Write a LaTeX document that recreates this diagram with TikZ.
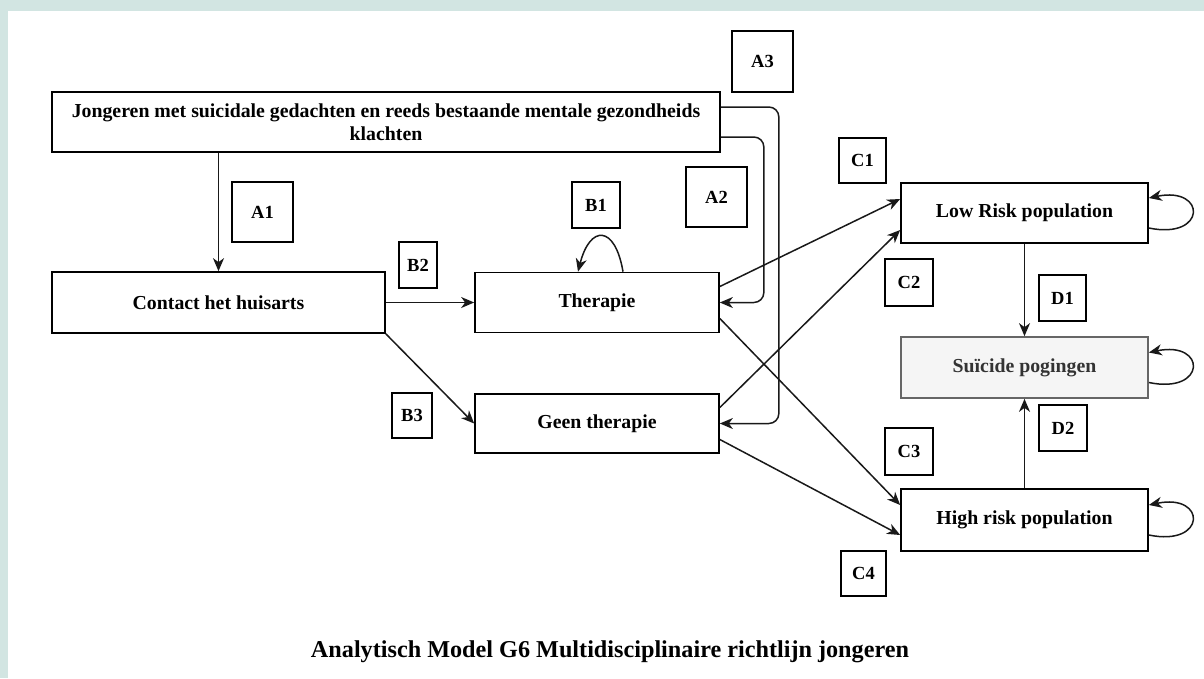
\documentclass[tikz,border=0pt]{standalone}
\usepackage{fontspec}
\setmainfont{Liberation Serif}
\usetikzlibrary{arrows.meta,calc}
\definecolor{frameteal}{RGB}{210,229,226}
\definecolor{linegray}{RGB}{25,25,25}
\definecolor{softgray}{RGB}{245,245,245}
\definecolor{edgegray}{RGB}{102,102,102}
\definecolor{textgray}{RGB}{51,51,51}
\begin{document}
\begin{tikzpicture}[x=1pt,y=-1pt,
  box/.style={draw=black,line width=1.7pt,fill=white,inner sep=0pt,align=center,
    font=\fontsize{19.8}{23}\selectfont\bfseries},
  tag/.style={draw=black,line width=1.7pt,fill=white,inner sep=0pt,
    font=\fontsize{18.5}{20}\selectfont\bfseries},
  arr/.style={draw=linegray,line width=1.5pt,
    -{Stealth[length=13pt,width=11pt,inset=4pt]}},
  loopback/.style={arr}]
  % page frame
  \fill[frameteal] (0,0) rectangle (1204,678);
  \fill[white] (8,11) rectangle (1204,678);
  \useasboundingbox (0,0) rectangle (1204,678);

  % main boxes
  \node[box,minimum width=668pt,minimum height=60pt] (top) at (386,122)
    {Jongeren met suicidale gedachten en reeds bestaande mentale gezondheids\\klachten};
  \node[box,minimum width=333pt,minimum height=61pt] (contact) at (218.5,302.5) {Contact het huisarts};
  \node[box,minimum width=244pt,minimum height=60pt] (ther) at (597,302.5) {Therapie};
  \node[box,minimum width=244pt,minimum height=59pt] (geen) at (597,423.5) {Geen therapie};
  \node[box,minimum width=247pt,minimum height=60pt] (low) at (1024.5,213) {Low Risk population};
  \node[box,draw=edgegray,fill=softgray,text=textgray,minimum width=247pt,minimum height=61pt]
    (sui) at (1024.5,367.5) {Suïcide pogingen};
  \node[box,minimum width=247pt,minimum height=62pt] (high) at (1024.5,520) {High risk population};

  % path labels
  \node[tag,minimum width=61pt,minimum height=60pt] (a1) at (262.5,212) {A1};
  \node[tag,minimum width=61pt,minimum height=60pt] (a2) at (716.5,197) {A2};
  \node[tag,minimum width=61pt,minimum height=61pt] (a3) at (762.5,61.5) {A3};
  \node[tag,minimum width=48pt,minimum height=46pt] (b1) at (596,205) {B1};
  \node[tag,minimum width=38pt,minimum height=46pt] (b2) at (418,265) {B2};
  \node[tag,minimum width=40pt,minimum height=45pt] (b3) at (412,415.5) {B3};
  \node[tag,minimum width=47pt,minimum height=45pt] (c1) at (862.5,160.5) {C1};
  \node[tag,minimum width=48pt,minimum height=47pt] (c2) at (909,282.5) {C2};
  \node[tag,minimum width=48pt,minimum height=47pt] (c3) at (909,451.5) {C3};
  \node[tag,minimum width=45pt,minimum height=45pt] (c4) at (863.5,573.5) {C4};
  \node[tag,minimum width=47pt,minimum height=46pt] (d1) at (1062.5,298) {D1};
  \node[tag,minimum width=48pt,minimum height=46pt] (d2) at (1063,428) {D2};

  % caption
  \node[font=\fontsize{24.2}{27}\selectfont\bfseries] (title) at (610,652)
    {Analytisch Model G6 Multidisciplinaire richtlijn jongeren};

  % connectors
  \draw[arr] (top.south -| contact.north) -- (contact.north);
  \draw[arr,rounded corners=10pt] ($(top.east)+(0,-15)$) -| ($(geen.east)+(59,0)$) -- (geen.east);
  \draw[arr,rounded corners=10pt] ($(top.east)+(0,15)$) -| ($(ther.east)+(44,0)$) -- (ther.east);
  \draw[arr] (contact.east) -- (ther.west);
  \draw[arr] (contact.south east) -- (geen.west);
  \draw[arr] ($(ther.north)+(26,0)$) .. controls +(-8,-47) and +(12,-47) .. ($(ther.north)+(-19,0)$);
  \draw[arr] ($(ther.east)+(0,-16)$) -- ($(low.west)+(0,-14)$);
  \draw[arr] ($(ther.east)+(0,16)$) -- ($(high.west)+(0,-15)$);
  \draw[arr] ($(geen.east)+(0,-16)$) -- ($(low.west)+(0,17)$);
  \draw[arr] ($(geen.east)+(0,16)$) -- ($(high.west)+(0,15)$);
  \draw[arr] (low.south) -- (sui.north);
  \draw[arr] (high.north) -- (sui.south);
  \foreach \n in {low,sui,high}
    \draw[loopback] ($(\n.east)+(0,15)$) .. controls +(58,12) and +(58,-12) .. ($(\n.east)+(0,-15)$);
\end{tikzpicture}
\end{document}
